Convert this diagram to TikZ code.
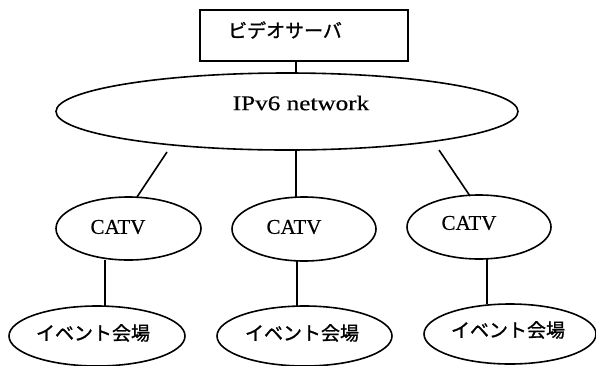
\documentclass[tikz,border=0pt]{standalone}
\usepackage{fontspec}
\setmainfont{Liberation Serif}
\newfontfamily\latinfont{Liberation Serif}[FakeBold=0.4]
\newfontfamily\jpfont{Noto Sans CJK JP}[FakeBold=1.2]
\usetikzlibrary{shapes.geometric}
\tikzset{
  link/.style={line width=1.6pt},
  oval/.style={draw, ellipse, line width=1.6pt, inner sep=0pt},
  latin/.style={font=\latinfont\fontsize{21}{24}\selectfont},
  jp/.style={font=\jpfont\fontsize{19}{22}\selectfont},
}
\begin{document}
\begin{tikzpicture}[x=1pt,y=-1pt]
\useasboundingbox (0,0) rectangle (596,365);

% video server
\node[draw, line width=1.6pt, minimum width=208pt, minimum height=51pt, inner sep=0pt] (server) at (304,35.5) {};
\node[jp] (servertxt) at (285,30) {ビデオサーバ};

% backbone
\node[oval, minimum width=462pt, minimum height=77pt] (net) at (287,111.5) {};
\node[latin] (nettxt) at (301,103) {\scalebox{1.2}[1]{IPv6 network}};

% CATV stations
\node[oval, minimum width=145pt, minimum height=63pt] (catvA) at (128.5,228.5) {};
\node[oval, minimum width=144pt, minimum height=64pt] (catvB) at (304,229) {};
\node[oval, minimum width=144pt, minimum height=64pt] (catvC) at (479,227) {};
\node[latin] (catvAtxt) at (118,227) {CATV};
\node[latin] (catvBtxt) at (294,227) {CATV};
\node[latin] (catvCtxt) at (469,223) {CATV};

% event venues
\node[oval, minimum width=176pt, minimum height=60pt] (venueA) at (97,336) {};
\node[oval, minimum width=175pt, minimum height=60pt] (venueB) at (304.5,336) {};
\node[oval, minimum width=172pt, minimum height=60pt] (venueC) at (510,334) {};
\node[jp] (venueAtxt) at (93,333) {イベント会場};
\node[jp] (venueBtxt) at (302,333) {イベント会場};
\node[jp] (venueCtxt) at (508,330) {イベント会場};

% connectors
\coordinate (srvfoot) at (296,61);
\coordinate (nettop) at (296,73);
\draw[link] (srvfoot) -- (nettop);

\coordinate (legA) at (167,152);
\coordinate (legAend) at (137,197);
\coordinate (legB) at (296,150);
\coordinate (legBend) at (296,197);
\coordinate (legC) at (439,150);
\coordinate (legCend) at (470,196);
\draw[link] (legA) -- (legAend);
\draw[link] (legB) -- (legBend);
\draw[link] (legC) -- (legCend);

\coordinate (dropA) at (105,260);
\coordinate (dropAend) at (105,306);
\coordinate (dropB) at (297,261);
\coordinate (dropBend) at (297,306);
\coordinate (dropC) at (487,258.5);
\coordinate (dropCend) at (487,304);
\draw[link] (dropA) -- (dropAend);
\draw[link] (dropB) -- (dropBend);
\draw[link] (dropC) -- (dropCend);
\end{tikzpicture}
\end{document}
